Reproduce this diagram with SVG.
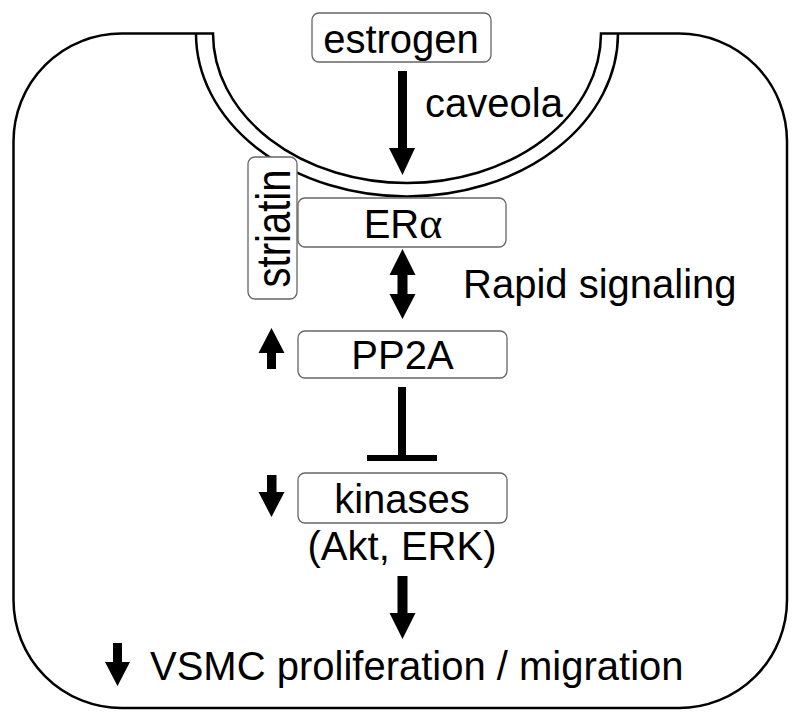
<svg xmlns="http://www.w3.org/2000/svg" width="800" height="722" viewBox="0 0 800 722">
<style>
.cell{fill:none;stroke:#000;stroke-width:2.5}
.box{fill:#fff;stroke:#666;stroke-width:1.3}
.t{font-family:"Liberation Sans",Arial,sans-serif;font-size:40px;fill:#000}
.c{text-anchor:middle}
.arr{fill:#000}
</style>
<rect width="800" height="722" fill="#fff"/>
<g id="cell">
<path class="cell" d="M213,33.5 A194,149.5 0 0 0 601,33.5 L679,33.5 A108,108 0 0 1 787,141.5 L787,600 A108,108 0 0 1 679,708 L121.5,708 A108,108 0 0 1 13.5,600 L13.5,141.5 A108,108 0 0 1 121.5,33.5 Z"/>
<path class="cell" d="M196,33.5 A211,163 0 0 0 618,33.5"/>
<text class="t" x="425" y="117">caveola</text>
</g>
<g id="connectors">
<path class="arr" d="M398,71 H407 V148 H415 L402.5,175 L389,148 H398 Z"/>
<path class="arr" d="M402.5,249 L415.5,275 H407.5 V294 H415.5 L402.5,319 L389.5,294 H397.5 V275 H389.5 Z"/>
<path class="arr" d="M398,387 H406 V455 H437 V461 H367 V455 H398 Z"/>
<path class="arr" d="M397.5,576 H407.5 V613 H415.5 L402.5,639 L389.5,613 H397.5 Z"/>
</g>
<g id="estrogen">
<rect class="box" x="312" y="13" width="179" height="49" rx="7"/>
<text class="t c" x="401" y="53">estrogen</text>
</g>
<g id="striatin">
<rect class="box" x="248" y="157" width="49" height="142" rx="7"/>
<text class="t c" transform="translate(290,228.5) rotate(-90) scale(1,1.18)">striatin</text>
</g>
<g id="era">
<rect class="box" x="298" y="198" width="208" height="49" rx="7"/>
<text class="t c" x="403" y="238">ER<tspan font-family="'Liberation Serif',serif" font-size="44">α</tspan></text>
</g>
<g id="rapid">
<text class="t" x="463" y="298">Rapid signaling</text>
</g>
<g id="pp2a">
<rect class="box" x="298" y="331" width="209" height="47" rx="7"/>
<text class="t c" x="402.5" y="369">PP2A</text>
<path class="arr" d="M271.5,328 L284.5,353 H276 V369 H267 V353 H258.5 Z"/>
</g>
<g id="kinases">
<rect class="box" x="298" y="473" width="209" height="50" rx="7"/>
<text class="t c" x="402" y="513">kinases</text>
<text class="t c" x="402" y="560">(Akt, ERK)</text>
<path class="arr" d="M267,475 H276.5 V492 H284.5 L271.5,517 L258.5,492 H267 Z"/>
</g>
<g id="vsmc">
<text class="t" x="150" y="680">VSMC proliferation / migration</text>
<path class="arr" d="M113,643 H122 V662 H130 L117.5,686 L105,662 H113 Z"/>
</g>
</svg>
